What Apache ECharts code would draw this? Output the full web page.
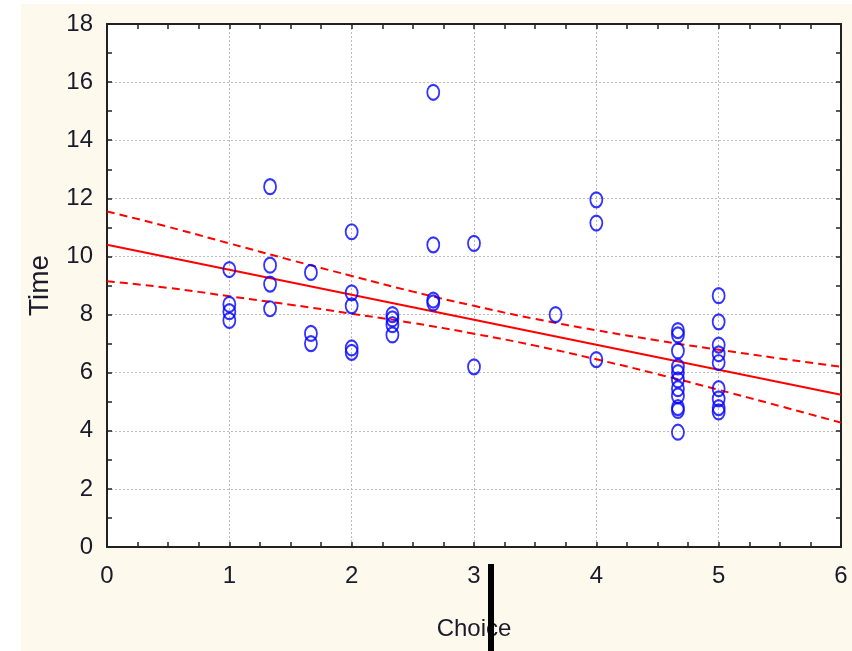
<!DOCTYPE html>
<html>
<head>
<meta charset="utf-8">
<title>Time vs Choice</title>
<script src="https://cdn.jsdelivr.net/npm/echarts@6/dist/echarts.min.js"></script>
<style>
  html, body { margin: 0; padding: 0; background: #fff; }
  #chart { width: 852px; height: 651px; }
</style>
</head>
<body>
<div id="chart"></div>
<script>
  // observed points (Choice, Time)
  var choiceVals = [
    1, 1, 1, 1,
    1.333, 1.333, 1.333, 1.333,
    1.667, 1.667, 1.667,
    2, 2, 2, 2, 2,
    2.333, 2.333, 2.333, 2.333,
    2.667, 2.667, 2.667, 2.667,
    3, 3,
    3.667,
    4, 4, 4,
    4.667, 4.667, 4.667, 4.667, 4.667, 4.667, 4.667, 4.667, 4.667, 4.667, 4.667,
    5, 5, 5, 5, 5, 5, 5, 5, 5
  ];
  var timeVals = [
    9.55, 8.35, 8.1, 7.8,
    12.4, 9.7, 9.05, 8.2,
    9.45, 7.35, 7.0,
    10.85, 8.75, 8.3, 6.85, 6.7,
    8.0, 7.85, 7.65, 7.3,
    15.65, 10.4, 8.5, 8.4,
    10.45, 6.2,
    8.0,
    11.95, 11.15, 6.45,
    7.45, 7.3, 6.75, 6.2, 6.0, 5.75, 5.45, 5.2, 4.8, 4.7, 3.95,
    8.65, 7.75, 6.95, 6.65, 6.35, 5.45, 5.1, 4.8, 4.65
  ];

  // fitted line and confidence band
  var bandX = [0, 0.5, 1, 1.5, 2, 2.5, 3, 3.5, 4, 4.5, 5, 5.5, 6];
  var fitY = [10.4, 9.97, 9.54, 9.11, 8.68, 8.25, 7.82, 7.39, 6.96, 6.53, 6.1, 5.67, 5.24];
  var upperY = [11.55, 11.02, 10.45, 9.88, 9.33, 8.79, 8.3, 7.85, 7.46, 7.11, 6.79, 6.49, 6.2];
  var lowerY = [9.15, 8.92, 8.63, 8.34, 8.03, 7.71, 7.34, 6.93, 6.46, 5.95, 5.41, 4.85, 4.28];

  var xTicks = [0, 6, 1];
  var yTicks = [0, 18, 2];

  function pairs(xs, ys) {
    var out = [];
    for (var i = 0; i < xs.length; i++) out.push([xs[i], ys[i]]);
    return out;
  }

  var labelFont = '"Liberation Sans", Arial, sans-serif';
  var cream = '#fef9ed';
  var frame = { show: true, onZero: false, lineStyle: { color: '#222', width: 2 } };
  var ticks = { show: true, inside: true, length: 5, lineStyle: { color: '#222', width: 1.5 } };
  var grid = { show: true, lineStyle: { color: '#bcbcbc', width: 1, type: [2, 2] } };

  var chart = echarts.init(document.getElementById('chart'));
  chart.setOption({
    animation: false,
    backgroundColor: '#fff',
    graphic: [
      { type: 'rect', z: -10, shape: { x: 21, y: 4, width: 831, height: 647 }, style: { fill: cream } },
      { type: 'rect', z: 100, shape: { x: 488, y: 564, width: 6, height: 87 }, style: { fill: '#000' } }
    ],
    grid: {
      left: 107, top: 24, right: 11, bottom: 104,
      show: true, backgroundColor: '#fff', borderWidth: 0
    },
    xAxis: [
      {
        type: 'value', min: xTicks[0], max: xTicks[1], interval: xTicks[2],
        name: 'Choice', nameLocation: 'middle', nameGap: 70,
        nameTextStyle: { fontFamily: labelFont, fontSize: 24, color: '#1a1a2a' },
        axisLine: frame, axisTick: ticks,
        minorTick: { show: true, splitNumber: 4, length: 5, lineStyle: { color: '#222', width: 1.5 } },
        axisLabel: { fontFamily: labelFont, fontSize: 24, color: '#1a1a2a', margin: 17 },
        splitLine: grid
      },
      {
        type: 'value', position: 'top', min: xTicks[0], max: xTicks[1], interval: xTicks[2],
        axisLine: frame, axisTick: ticks,
        minorTick: { show: true, splitNumber: 4, length: 5, lineStyle: { color: '#222', width: 1.5 } },
        axisLabel: { show: false }, splitLine: { show: false }
      }
    ],
    yAxis: [
      {
        type: 'value', min: yTicks[0], max: yTicks[1], interval: yTicks[2],
        name: 'Time', nameLocation: 'middle', nameGap: 53, nameRotate: 90,
        nameTextStyle: { fontFamily: labelFont, fontSize: 28, color: '#1a1a2a' },
        axisLine: frame, axisTick: ticks,
        minorTick: { show: true, splitNumber: 2, length: 5, lineStyle: { color: '#222', width: 1.5 } },
        axisLabel: { fontFamily: labelFont, fontSize: 24, color: '#1a1a2a', margin: 14 },
        splitLine: grid
      },
      {
        type: 'value', position: 'right', min: yTicks[0], max: yTicks[1], interval: yTicks[2],
        axisLine: frame, axisTick: ticks,
        minorTick: { show: true, splitNumber: 2, length: 5, lineStyle: { color: '#222', width: 1.5 } },
        axisLabel: { show: false }, splitLine: { show: false }
      }
    ],
    series: [
      {
        name: 'Upper', type: 'line', data: pairs(bandX, upperY), smooth: true,
        symbol: 'none', lineStyle: { color: '#ff0000', width: 2, type: [8, 5] }
      },
      {
        name: 'Lower', type: 'line', data: pairs(bandX, lowerY), smooth: true,
        symbol: 'none', lineStyle: { color: '#ff0000', width: 2, type: [8, 5] }
      },
      {
        name: 'Fit', type: 'line', data: pairs(bandX, fitY),
        symbol: 'none', lineStyle: { color: '#ff0000', width: 2 }
      },
      {
        name: 'Time', type: 'scatter', data: pairs(choiceVals, timeVals),
        symbol: 'circle', symbolSize: [12, 15], z: 5,
        itemStyle: { color: 'rgba(0,0,0,0)', borderColor: '#0000ff', borderWidth: 2 }
      }
    ]
  });
</script>
</body>
</html>
